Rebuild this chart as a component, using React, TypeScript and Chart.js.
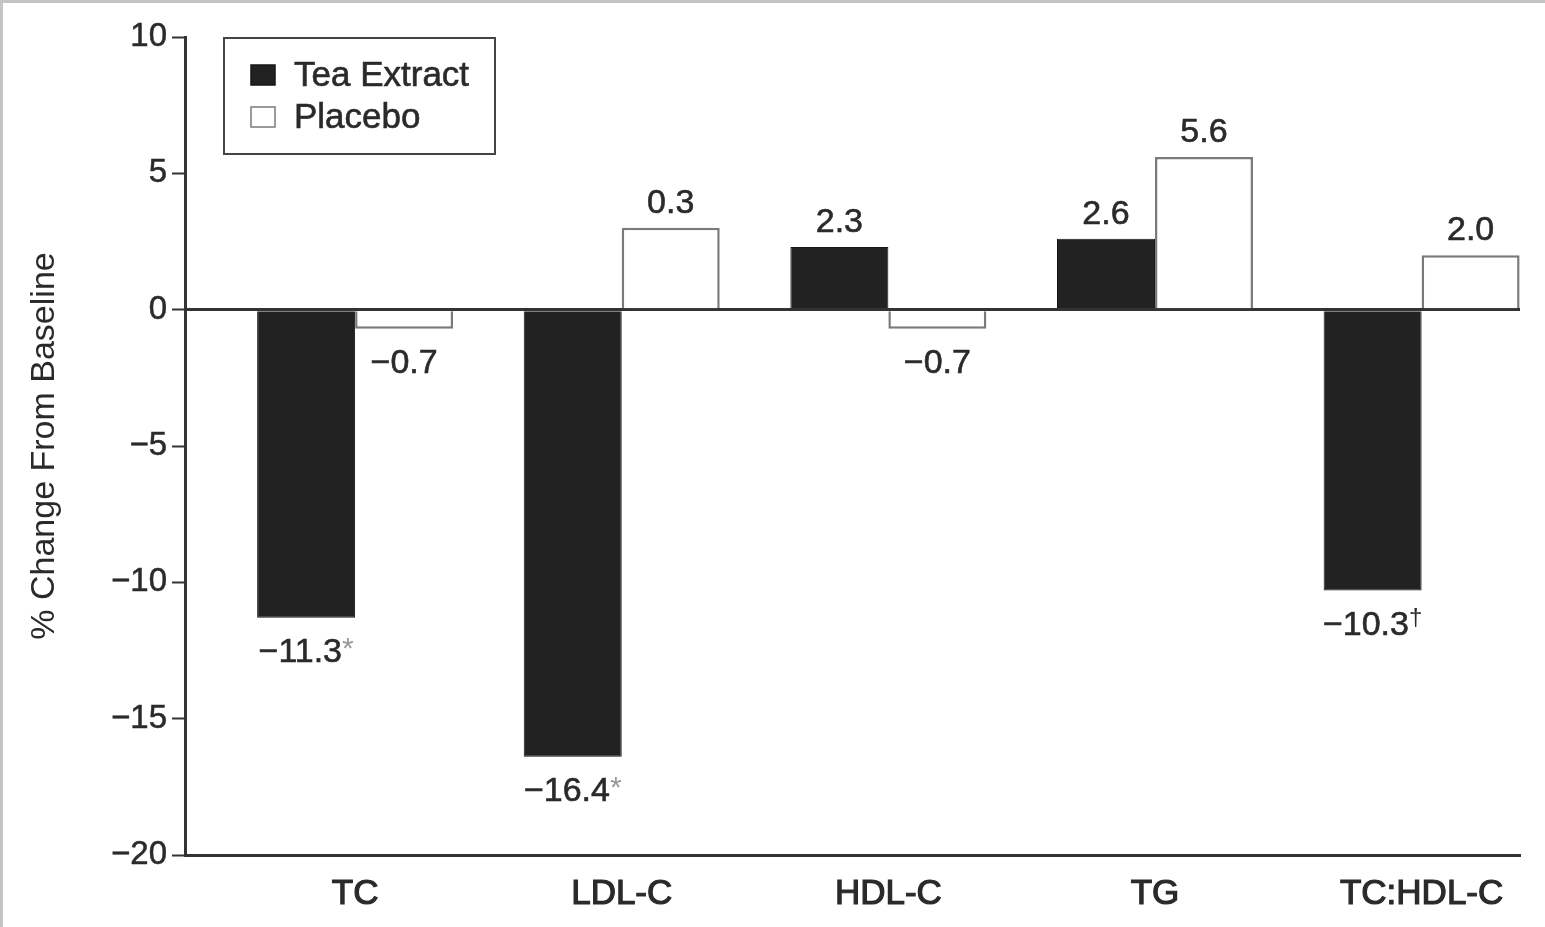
import { useEffect, useRef } from "react";
import { Chart, registerables } from "chart.js";

Chart.register(...registerables);

const categories = ["TC", "LDL-C", "HDL-C", "TG", "TC:HDL-C"];
const seriesNames = ["Tea Extract", "Placebo"];
const teaValues = [-11.3, -16.4, 2.3, 2.6, -10.3];
const placeboValues = [-0.7, 3.0, -0.7, 5.6, 2.0];
const teaLabels = ["\u221211.3", "\u221216.4", "2.3", "2.6", "\u221210.3"];
const teaMarks = ["*", "*", "", "", "\u2020"];
const placeboLabels = ["\u22120.7", "0.3", "\u22120.7", "5.6", "2.0"];
const placeboMarks = ["", "", "", "", ""];
const yMin = -20;
const yMax = 10;
const yStep = 5;

const FONT = '"Liberation Sans", Arial, sans-serif';
const INK = "#2a2a2a";

const labelPlugin = {
  id: "valueLabels",
  afterDatasetsDraw(chart: any) {
    const ctx = chart.ctx;
    const sets = [
      { labels: teaLabels, marks: teaMarks, values: teaValues },
      { labels: placeboLabels, marks: placeboMarks, values: placeboValues },
    ];
    ctx.save();
    sets.forEach((s, di) => {
      const meta = chart.getDatasetMeta(di);
      meta.data.forEach((bar: any, i: number) => {
        const main = s.labels[i];
        const mark = s.marks[i];
        ctx.font = `34px ${FONT}`;
        const w1 = ctx.measureText(main).width;
        const markFont = mark === "*" ? `30px ${FONT}` : `24px ${FONT}`;
        ctx.font = markFont;
        const w2 = mark ? ctx.measureText(mark).width : 0;
        const total = w1 + w2;
        const x0 = bar.x - total / 2;
        const y = s.values[i] >= 0 ? bar.y - 15 : bar.y + 44;
        ctx.fillStyle = INK;
        ctx.strokeStyle = INK;
        ctx.lineWidth = 0.6;
        ctx.textAlign = "left";
        ctx.textBaseline = "alphabetic";
        ctx.font = `34px ${FONT}`;
        ctx.fillText(main, x0, y);
        ctx.strokeText(main, x0, y);
        if (mark) {
          ctx.font = markFont;
          ctx.fillStyle = mark === "*" ? "#9a9a9a" : INK;
          ctx.fillText(mark, x0 + w1, mark === "*" ? y - 4 : y - 10);
        }
      });
    });
    ctx.restore();
  },
};

const legendFramePlugin = {
  id: "legendFrame",
  afterDraw(chart: any) {
    const ctx = chart.ctx;
    ctx.save();
    // outer frame lines (top & left)
    ctx.strokeStyle = "#c4c4c4";
    ctx.lineWidth = 3;
    ctx.beginPath();
    ctx.moveTo(0, 1.5);
    ctx.lineTo(chart.width, 1.5);
    ctx.moveTo(1.5, 0);
    ctx.lineTo(1.5, chart.height);
    ctx.stroke();

    // legend box
    ctx.strokeStyle = "#444";
    ctx.lineWidth = 2;
    ctx.strokeRect(224, 38, 271, 116);
    const ds = chart.data.datasets;
    const rows = [75, 117];
    rows.forEach((cy, i) => {
      const d = ds[i];
      ctx.fillStyle = d.backgroundColor;
      ctx.fillRect(251, cy - 10, 24, 20);
      ctx.strokeStyle = d.borderColor;
      ctx.lineWidth = 1.5;
      ctx.strokeRect(251, cy - 10, 24, 20);
      ctx.fillStyle = INK;
      ctx.strokeStyle = INK;
      ctx.lineWidth = 0.6;
      ctx.font = `35px ${FONT}`;
      ctx.textAlign = "left";
      ctx.textBaseline = "middle";
      ctx.fillText(d.label, 294, cy + 1);
      ctx.strokeText(d.label, 294, cy + 1);
    });
    ctx.restore();
  },
};

export default function App() {
  const ref = useRef<HTMLCanvasElement | null>(null);

  useEffect(() => {
    if (!ref.current) return;
    const chart = new Chart(ref.current, {
      type: "bar",
      data: {
        datasets: [
          {
            label: seriesNames[0],
            data: teaValues.map((v, i) => ({ x: i, y: v })),
            backgroundColor: "#222222",
            borderColor: "#161616",
            borderWidth: 1,
            barPercentage: 1,
            categoryPercentage: 0.735,
          },
          {
            label: seriesNames[1],
            data: placeboValues.map((v, i) => ({ x: i, y: v })),
            backgroundColor: "#ffffff",
            borderColor: "#7a7a7a",
            borderWidth: 2.5,
            barPercentage: 1,
            categoryPercentage: 0.735,
          },
        ],
      },
      options: {
        responsive: false,
        animation: false,
        layout: { padding: { left: 0, right: 25, top: 37, bottom: 0 } },
        plugins: {
          legend: { display: false },
          tooltip: { enabled: false },
        },
        scales: {
          x: {
            type: "linear",
            offset: false,
            min: -0.638,
            max: 4.369,
            grid: { display: false, drawTicks: false },
            border: { display: true, color: "#333", width: 3 },
            afterBuildTicks: (scale: any) => {
              scale.ticks = categories.map((_, i) => ({ value: i }));
            },
            afterFit: (scale: any) => {
              scale.height = 72;
            },
            ticks: {
              autoSkip: false,
              maxRotation: 0,
              padding: 18,
              color: INK,
              textStrokeColor: INK,
              textStrokeWidth: 1.2,
              font: { family: FONT, size: 35 },
              callback: (v: any) => categories[v] ?? "",
            },
          },
          y: {
            min: yMin,
            max: yMax,
            afterFit: (scale: any) => {
              scale.width = 185;
            },
            ticks: {
              stepSize: yStep,
              padding: 5,
              color: INK,
              textStrokeColor: INK,
              textStrokeWidth: 0.5,
              font: { family: FONT, size: 33 },
              callback: (v: any) => (v < 0 ? "\u2212" + Math.abs(v) : String(v)),
            },
            grid: {
              drawOnChartArea: true,
              drawTicks: true,
              tickLength: 13,
              tickColor: "#333",
              tickWidth: 2,
              color: (c: any) => (c.tick && c.tick.value === 0 ? "#333" : "rgba(0,0,0,0)"),
              lineWidth: 3,
            },
            border: { display: true, color: "#333", width: 3 },
            title: {
              display: true,
              text: "% Change From Baseline",
              color: INK,
              font: { family: FONT, size: 34 },
              padding: { top: 24, bottom: 0 },
            },
          },
        },
      },
      plugins: [labelPlugin, legendFramePlugin],
    } as any);
    return () => chart.destroy();
  }, []);

  return (
    <div style={{ position: "absolute", left: 0, top: 0, width: 1545, height: 927, background: "#fff" }}>
      <canvas ref={ref} width={1545} height={927} />
    </div>
  );
}
